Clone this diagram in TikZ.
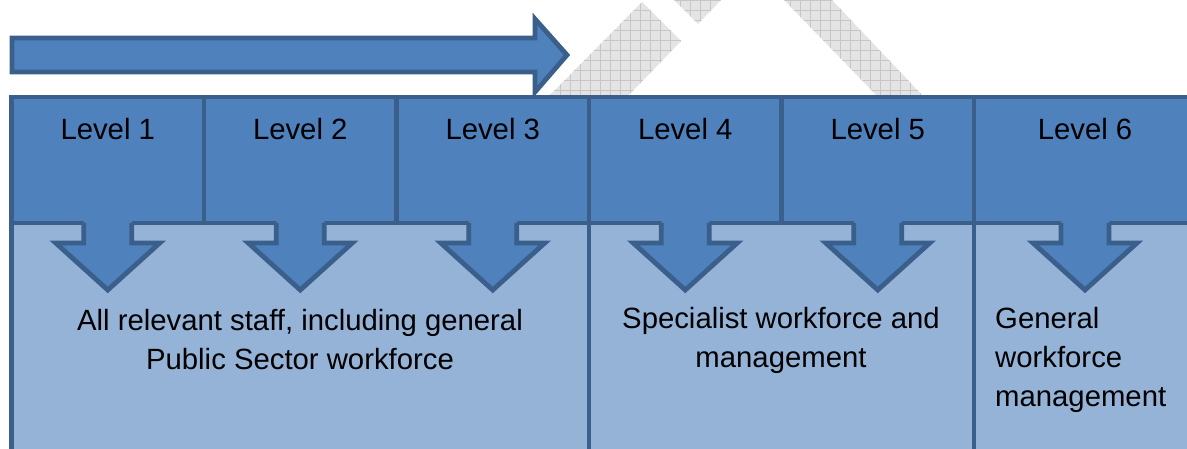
\documentclass[tikz,border=0pt]{standalone}
\usepackage{fontspec}
\setmainfont{Liberation Sans}
\definecolor{dk}{HTML}{4F81BD}
\definecolor{ln}{HTML}{3A5F8B}
\definecolor{lt}{HTML}{95B3D7}
\definecolor{gfill}{HTML}{E4E4E4}
\definecolor{gline}{HTML}{C6C6C6}
\begin{document}
\begin{tikzpicture}[x=1pt,y=-1pt,
  lvlbox/.style={draw=ln,fill=dk,line width=4.8pt},
  lowbox/.style={draw=ln,fill=lt,line width=4.8pt},
  arrfill/.style={fill=dk},
  arrline/.style={draw=ln,line width=4.8pt,line join=miter},
  lbl/.style={font=\fontsize{29.3}{39}\selectfont,inner sep=0pt,text=black}]
\useasboundingbox (0,0) rectangle (1187,449);
\clip (0,0) rectangle (1187,449);
% watermark shapes
\begin{scope}
\clip (548,97) -- (642,2) -- (681,41) -- (627,97) -- cycle
      (673,-1) -- (698,24) -- (722,-1) -- cycle
      (783,-1) -- (831,-1) -- (924,97) -- (878,97) -- cycle;
\fill[gfill] (540,-5) rectangle (930,100);
\draw[gline,line width=0.8pt,step=10pt] (540,-10) grid (930,100);
\end{scope}
% top arrow
\draw[lvlbox,line join=miter] (12,38) -- (535,38) -- (535,19) -- (567,55) -- (535,92) -- (535,72) -- (12,72) -- cycle;
% lower boxes
\path[lowbox] (11.5,223) rectangle (589,470);
\path[lowbox] (589,223) rectangle (974,470);
\path[lowbox] (974,223) rectangle (1196,470);
% level boxes
\path[lvlbox] (11.5,97) rectangle (204,223);
\path[lvlbox] (204,97) rectangle (396.5,223);
\path[lvlbox] (396.5,97) rectangle (589,223);
\path[lvlbox] (589,97) rectangle (781.5,223);
\path[lvlbox] (781.5,97) rectangle (974,223);
\path[lvlbox] (974,97) rectangle (1196,223);
% down arrows
\foreach \c in {107.75,300.25,492.75,685.25,877.75,1085}{
  \fill[arrfill] (\c-24,219) -- (\c-24,243) -- (\c-52,243) -- (\c,290) -- (\c+52,243) -- (\c+24,243) -- (\c+24,219) -- cycle;
  \draw[arrline] (\c-24,223) -- (\c-24,243) -- (\c-52,243) -- (\c,290) -- (\c+52,243) -- (\c+24,243) -- (\c+24,223);
}
% labels
\node[lbl,anchor=base] (t1) at (107.75,140) {Level 1};
\node[lbl,anchor=base] (t2) at (300.25,140) {Level 2};
\node[lbl,anchor=base] (t3) at (492.75,140) {Level 3};
\node[lbl,anchor=base] (t4) at (685.25,140) {Level 4};
\node[lbl,anchor=base] (t5) at (877.75,140) {Level 5};
\node[lbl,anchor=base] (t6) at (1085,140) {Level 6};
\node[lbl,align=center,anchor=base] (s1) at (300,369) {All relevant staff, including general\\Public Sector workforce};
\node[lbl,align=center,anchor=base] (s2) at (781,367) {Specialist workforce and\\management};
\node[lbl,align=left,anchor=base west] (s3) at (995,406) {General\\workforce\\management};
\end{tikzpicture}
\end{document}
